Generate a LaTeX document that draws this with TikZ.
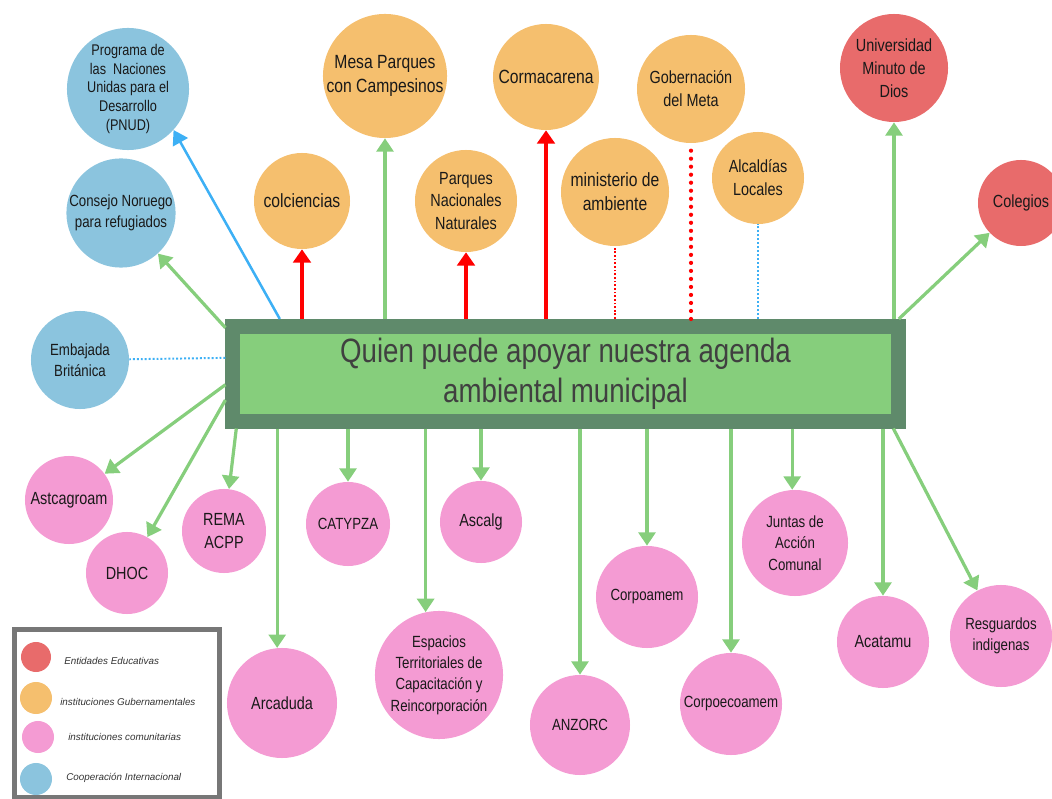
\documentclass[tikz,border=0pt]{standalone}
\usepackage{fontspec}
\usepackage{xcolor}
\usetikzlibrary{arrows.meta,calc}

\newfontfamily\cnd[FakeStretch=0.82]{Liberation Sans}
\newfontfamily\hand{Liberation Sans}

\definecolor{edured}{HTML}{E86B6B}
\definecolor{goborange}{HTML}{F5BF6E}
\definecolor{compink}{HTML}{F49BD3}
\definecolor{coopblue}{HTML}{8BC4DE}
\definecolor{boxdark}{HTML}{5F8A6B}
\definecolor{boxlight}{HTML}{86CE7C}
\definecolor{arrgreen}{HTML}{86CE7C}
\definecolor{linkblue}{HTML}{3DB0F5}
\definecolor{legendgray}{HTML}{777777}

\begin{document}
\begin{tikzpicture}[x=0.025cm, y=-0.025cm,
  bub/.style={circle, inner sep=0pt, align=center, text=black!90, minimum size=#1*0.05cm},
  edu/.style={bub=#1, fill=edured},
  gob/.style={bub=#1, fill=goborange},
  com/.style={bub=#1, fill=compink},
  coop/.style={bub=#1, fill=coopblue},
  big/.style={font=\cnd\fontsize{13.6}{17}\selectfont},
  mid/.style={font=\cnd\fontsize{12.5}{16.3}\selectfont},
  small/.style={font=\cnd\fontsize{11.5}{15.2}\selectfont},
  tiny/.style={font=\cnd\fontsize{11}{13.3}\selectfont},
  keytxt/.style={anchor=west, inner sep=0pt, text=black!80, font=\hand\itshape\fontsize{7}{8}\selectfont},
  garr/.style={draw=arrgreen, line width=2.3pt, -{Triangle[width=12pt,length=9.5pt]}},
  rarr/.style={draw=red, line width=2.5pt, -{Triangle[width=12.5pt,length=9.5pt]}},
  barr/.style={draw=linkblue, line width=1.8pt, -{Triangle[width=12pt,length=10pt]}},
  rdot/.style={draw=red, line width=1.3pt, dash pattern=on 1.3pt off 1.3pt},
  bigdot/.style={draw=red, line width=3pt, line cap=round, dash pattern=on 0pt off 5.7pt},
  bdot/.style={draw=linkblue, line width=1.4pt, dash pattern=on 1.4pt off 1.4pt}
]
\useasboundingbox (0,0) rectangle (1052,799);

% centro
\node[draw=boxdark, line width=0.375cm, fill=boxlight, minimum width=16.625cm, minimum height=2.3625cm, inner sep=0pt, align=center, text=black!75, font=\cnd\fontsize{24}{29}\selectfont] (agenda) at (565.5,373.75) {Quien puede apoyar nuestra agenda\\ambiental municipal};

% cooperacion internacional
\node[coop=61, tiny] (pnud) at (128,89) {Programa de\\las\ \ Naciones\\Unidas para el\\Desarrollo\\(PNUD)};
\node[coop=54, small] (noruego) at (121,213) {Consejo Noruego\\para refugiados};
\node[coop=49, small] (embajada) at (80,360) {Embajada\\Británica};

% gubernamentales
\node[gob=48, big] (colc) at (302,201) {colciencias};
\node[gob=62, big] (mesa) at (385,76) {Mesa Parques\\con Campesinos};
\node[gob=51, mid] (pnn) at (466,201) {Parques\\Nacionales\\Naturales};
\node[gob=53, big] (corma) at (546,77) {Cormacarena};
\node[gob=54, big] (minamb) at (615,192) {ministerio de\\ambiente};
\node[gob=54, mid] (gobmeta) at (691,89) {Gobernación\\del Meta};
\node[gob=46, mid] (alcal) at (758,178) {Alcaldías\\Locales};

% educativas
\node[edu=54, mid] (uniminuto) at (894,68) {Universidad\\Minuto de\\Dios};
\node[edu=43, mid] (colegios) at (1021,203) {Colegios};

% comunitarias
\node[com=44, mid] (astca) at (69,500) {Astcagroam};
\node[com=41, mid] (dhoc) at (127,573) {DHOC};
\node[com=42, mid] (rema) at (224,531) {REMA\\ACPP};
\node[com=55, mid] (arca) at (282,703) {Arcaduda};
\node[com=42, small] (catypza) at (348,524) {CATYPZA};
\node[com=64, small] (espacios) at (439,675) {Espacios\\Territoriales de\\Capacitación y\\Reincorporación};
\node[com=41, mid] (ascalg) at (481,522) {Ascalg};
\node[com=50, small] (anzorc) at (580,725) {ANZORC};
\node[com=51, small] (corpoamem) at (647,597) {Corpoamem};
\node[com=51, small] (corpoeco) at (731,704) {Corpoecoamem};
\node[com=53, small] (juntas) at (795,543) {Juntas de\\Acción\\Comunal};
\node[com=46, mid] (acatamu) at (883,642) {Acatamu};
\node[com=51, small] (resguardos) at (1001,636) {Resguardos\\indigenas};

% arriba
\draw[barr] ($(agenda.north west)!0.08!(agenda.north east)$) -- (pnud.-42);
\draw[rarr] (agenda.north -| colc) -- (colc);
\draw[garr] (agenda.north -| mesa) -- (mesa);
\draw[rarr] (agenda.north -| pnn) -- (pnn);
\draw[rarr] (agenda.north -| corma) -- (corma);
\draw[rdot] (agenda.north -| minamb) -- (minamb);
\draw[bigdot] (agenda.north -| gobmeta) -- (gobmeta);
\draw[bdot] (agenda.north -| alcal) -- (alcal);
\draw[garr] (agenda.north -| uniminuto) -- (uniminuto);
\draw[garr] ($(agenda.north west)!0.99!(agenda.north east)$) -- (colegios);
\draw[garr] ($(agenda.north west)!0.08!(agenda.south west)$) -- (noruego);
\draw[bdot] ($(agenda.north west)!0.355!(agenda.south west)$) -- (embajada);

% abajo
\draw[garr] ($(agenda.north west)!0.6!(agenda.south west)$) -- (astca);
\draw[garr] ($(agenda.north west)!0.74!(agenda.south west)$) -- (dhoc);
\draw[garr] ($(agenda.south west)!0.016!(agenda.south east)$) -- (rema);
\draw[garr] (agenda.south -| arca.95) -- (arca.95);
\draw[garr] (agenda.south -| catypza) -- (catypza);
\draw[garr] (agenda.south -| espacios.102) -- (espacios.102);
\draw[garr] (agenda.south -| ascalg) -- (ascalg);
\draw[garr] (agenda.south -| anzorc) -- (anzorc);
\draw[garr] (agenda.south -| corpoamem) -- (corpoamem);
\draw[garr] (agenda.south -| corpoeco) -- (corpoeco);
\draw[garr] (agenda.south -| juntas.93) -- (juntas.93);
\draw[garr] (agenda.south -| acatamu) -- (acatamu);
\draw[garr] ($(agenda.south west)!0.982!(agenda.south east)$) -- (resguardos);

% leyenda
\node[draw=legendgray, line width=0.125cm, minimum width=205*0.025cm, minimum height=168*0.025cm, inner sep=0pt] (legend) at (117,713.5) {};
\node[edu=15] (keyedu) at (36,657) {};
\node[gob=16] (keygob) at (36,698) {};
\node[com=16] (keycom) at (38,737) {};
\node[coop=16] (keycoop) at (36,779) {};
\node[keytxt] (txtedu) at (64,661) {Entidades Educativas};
\node[keytxt] (txtgob) at (60,702) {instituciones Gubernamentales};
\node[keytxt] (txtcom) at (68,737) {instituciones comunitarias};
\node[keytxt] (txtcoop) at (66,778) {Cooperación Internacional};
\end{tikzpicture}
\end{document}
